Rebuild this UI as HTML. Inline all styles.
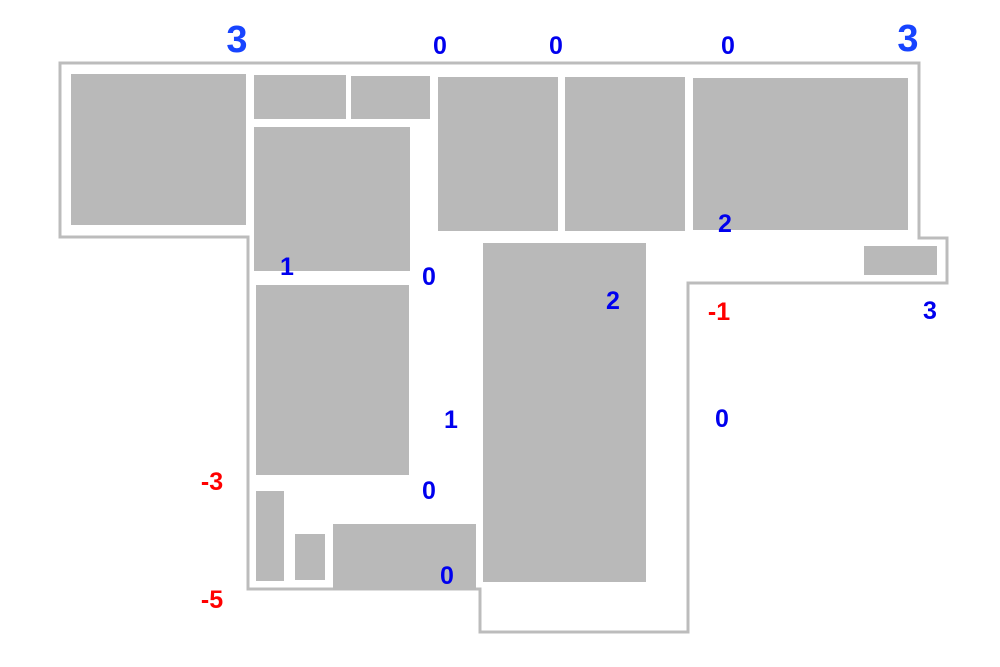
<!DOCTYPE html>
<html><head><meta charset="utf-8"><style>
html,body{margin:0;padding:0;background:#fff;}
svg{display:block;}
text{font-family:"Liberation Sans",sans-serif;font-weight:bold;text-anchor:middle;}
.b{fill:#0000ee;font-size:25px;}
.B{fill:#1744ff;font-size:38px;}
.r{fill:#ff0000;font-size:25px;}
</style></head><body>
<svg width="1000" height="667" viewBox="0 0 1000 667">
<polygon points="60,63 919,63 919,238 947,238 947,283 688,283 688,632 480,632 480,589 248,589 248,237 60,237" fill="none" stroke="#bcbcbc" stroke-width="3"/>
<g fill="#b9b9b9">
<rect x="71" y="74" width="175" height="151"/>
<rect x="254" y="75" width="92" height="44"/>
<rect x="351" y="76" width="79" height="43"/>
<rect x="254" y="127" width="156" height="144"/>
<rect x="438" y="77" width="120" height="154"/>
<rect x="565" y="77" width="120" height="154"/>
<rect x="693" y="78" width="215" height="152"/>
<rect x="864" y="246" width="73" height="29"/>
<rect x="483" y="243" width="163" height="339"/>
<rect x="256" y="285" width="153" height="190"/>
<rect x="256" y="491" width="28" height="90"/>
<rect x="295" y="534" width="30" height="46"/>
<rect x="333" y="524" width="143" height="66"/>
</g>
<text class="B" x="237" y="52">3</text>
<text class="B" x="908" y="51">3</text>
<text class="b" x="440" y="54">0</text>
<text class="b" x="556" y="54">0</text>
<text class="b" x="728" y="54">0</text>
<text class="b" x="725" y="232">2</text>
<text class="b" x="613" y="309">2</text>
<text class="b" x="287" y="275">1</text>
<text class="b" x="429" y="285">0</text>
<text class="b" x="451" y="428">1</text>
<text class="b" x="722" y="427">0</text>
<text class="b" x="429" y="499">0</text>
<text class="b" x="447" y="584">0</text>
<text class="b" x="930" y="319">3</text>
<text class="r" x="719" y="320">-1</text>
<text class="r" x="212" y="490">-3</text>
<text class="r" x="212" y="608">-5</text>
</svg>
</body></html>
